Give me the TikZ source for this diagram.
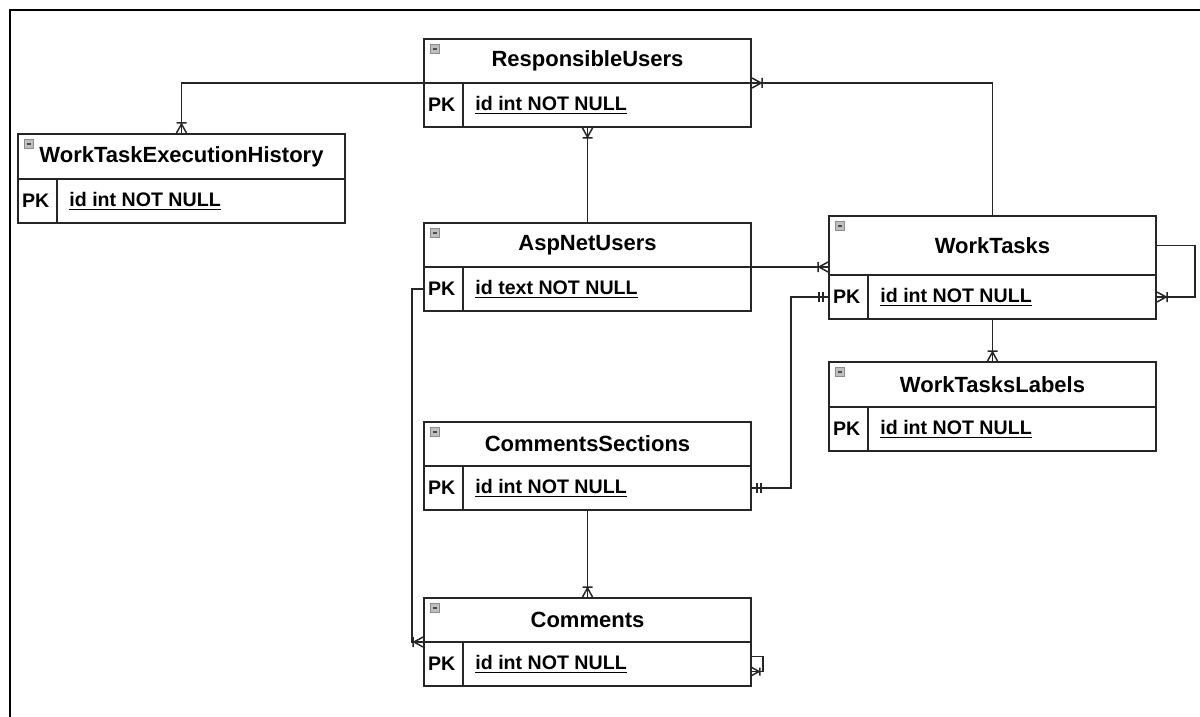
\documentclass[tikz,border=0pt]{standalone}
\usepackage{fontspec}
\setmainfont{Liberation Sans}

\begin{document}
\begin{tikzpicture}[x=0.5pt, y=-0.5pt,
    edgeline/.style={draw=black!85, line width=0.75pt},
    tablehead/.style={edgeline, rectangle, inner sep=0pt, outer sep=0pt, minimum width=163.5pt, minimum height=22pt, font=\fontsize{11}{13}\selectfont\bfseries},
    keyrow/.style={edgeline, rectangle, inner sep=0pt, outer sep=0pt, minimum width=163.5pt, minimum height=22pt},
    fieldtext/.style={inner sep=0pt, font=\fontsize{9.8}{11}\selectfont\bfseries},
    minusicon/.style={draw=black!45, fill=black!25, inner sep=0pt, minimum width=4.2pt, minimum height=4.6pt,
      path picture={\draw[black!70, line width=0.6pt] ([xshift=-1.2pt]path picture bounding box.center) -- ([xshift=1.2pt]path picture bounding box.center);}},
    manyone/.pic={\draw[edgeline] (1,5) -- (10,0) -- (1,-5) (11,5) -- (11,-5);},
    oneone/.pic={\draw[edgeline] (6,5) -- (6,-5) (10,5) -- (10,-5);}]
    \useasboundingbox (0,0) rectangle (1200,717);
    \draw[line width=1.3pt] (10,717) -- (10,10) -- (1200,10);

    \foreach \n/\x/\y/\h/\t/\f in {
        resp/424/39/22/ResponsibleUsers/id int NOT NULL,
        hist/18/134/22.5/WorkTaskExecutionHistory/id int NOT NULL,
        asp/424/223/22/AspNetUsers/id text NOT NULL,
        tasks/829/216/29.5/WorkTasks/id int NOT NULL,
        labels/829/362/22.5/WorkTasksLabels/id int NOT NULL,
        sect/424/422/22/CommentsSections/id int NOT NULL,
        comm/424/598/22/Comments/id int NOT NULL}{
      \node[tablehead, minimum height=\h pt, anchor=north west] (\n) at (\x,\y) {\t};
      \node[keyrow, anchor=north west] (\n-row) at (\n.south west) {};
      \draw[edgeline] ([xshift=19.5pt]\n-row.north west) -- ([xshift=19.5pt]\n-row.south west);
      \node[fieldtext, anchor=west] (\n-pk) at ([xshift=1.8pt]\n-row.west) {PK};
      \node[fieldtext, anchor=west] (\n-id) at ([xshift=25.5pt]\n-row.west) {\underline{\f}};
      \node[minusicon] (\n-icon) at ([xshift=5.5pt,yshift=-5pt]\n.north west) {};
    }

    \draw[edgeline] (resp.south west) -| (hist.north);
    \pic[rotate=90] at (hist.north) {manyone};
    \draw[edgeline] (resp.south east) -| (tasks.north);
    \pic at (resp.south east) {manyone};
    \draw[edgeline] (resp-row.south) -- (asp.north);
    \pic[rotate=-90] at (resp-row.south) {manyone};

    \coordinate (asptip) at (asp.south east -| tasks.west);
    \draw[edgeline] (asp.south east) -- (asptip);
    \pic[rotate=180] at (asptip) {manyone};
    \draw[edgeline] (tasks.east) -- ++(39,0) |- (tasks-row.east);
    \pic at (tasks-row.east) {manyone};
    \draw[edgeline] (tasks-row.south) -- (labels.north);
    \pic[rotate=90] at (labels.north) {manyone};

    \draw[edgeline] (tasks-row.west) -- ++(-38,0) |- (sect-row.east);
    \pic[rotate=180] at (tasks-row.west) {oneone};
    \pic at (sect-row.east) {oneone};
    \draw[edgeline] (asp-row.west) -- ++(-12,0) |- (comm.south west);
    \pic[rotate=180] at (comm.south west) {manyone};
    \draw[edgeline] (sect-row.south) -- (comm.north);
    \pic[rotate=90] at (comm.north) {manyone};

    \coordinate (loopin) at ([yshift=3.75pt]comm-row.east);
    \coordinate (loopout) at ([yshift=-3.75pt]comm-row.east);
    \draw[edgeline] (loopin) -- ++(12,0) |- (loopout);
    \pic[scale=0.8] at (loopout) {manyone};
\end{tikzpicture}
\end{document}
